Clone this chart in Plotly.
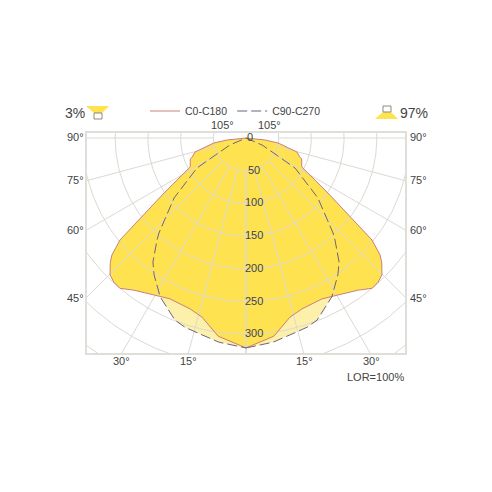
import numpy as np
import plotly.graph_objects as go

# Polar photometric data: gamma angle (deg from nadir) and intensity (cd/klm)
c0_angles = [0, 8, 13.8, 18.1, 25.3, 28.8, 36.4, 40, 42.5, 44.8, 47.4, 48.9, 51, 56.1, 62.6, 69.4, 70.6, 74.6, 81.1, 84, 90]
c0_values = [321, 306, 282, 275, 272, 276, 289, 300, 299, 295, 282, 272, 248, 151, 96, 91, 87, 81, 50, 29, 0]
c90_angles = [0, 7.5, 14.1, 17.9, 21.3, 28.4, 33.9, 36.9, 41.1, 42.5, 50.2, 58.5, 60.6, 66.4, 72]
c90_values = [321, 315, 307, 304, 299, 276, 252, 237, 207, 197, 143, 88, 56, 27, 0]
radial_ticks = [50, 100, 150, 200, 250, 300]
grid_radii = [50, 100, 150, 200, 250, 300, 350, 400, 450]
grid_angles = [0, 15, 30, 45, 60, 75, 90, 105]
side_labels = [(90, 137), (75, 180), (60, 230), (45, 298)]
bottom_labels = [(30, 121, 371), (15, 188, 304)]

W = H = 476
OFF = 8  # page body margin
L, R, T, B = 86, 406, 132, 354
CX, CY, S = 246, 138, 0.654
GRID = "#dcd9d2"
FRAME = "#e0ded9"
TXT = "#444444"

def px(x): return (x - L) / (R - L)
def py(y): return (B - y) / (B - T)

def mirror(a, v):
    a = np.radians(np.array(a, float))
    v = np.array(v, float)
    x = np.concatenate([v * np.sin(a), -(v * np.sin(a))[::-1]])
    y = np.concatenate([-v * np.cos(a), -(v * np.cos(a))[::-1]])
    return x, y

fig = go.Figure()
x90, y90 = mirror(c90_angles, c90_values)
x0, y0 = mirror(c0_angles, c0_values)
fig.add_trace(go.Scatter(x=x90, y=y90, mode="lines", fill="toself", fillcolor="#fdf0aa",
                         line=dict(width=0), showlegend=False, hoverinfo="skip"))
fig.add_trace(go.Scatter(x=x0, y=y0, mode="lines", fill="toself", fillcolor="#ffe24f",
                         line=dict(width=0), showlegend=False, hoverinfo="skip"))
t = np.radians(np.linspace(-180, 180, 361))
for r in grid_radii:
    fig.add_trace(go.Scatter(x=r * np.sin(t), y=r * np.cos(t), mode="lines",
                             line=dict(color=GRID, width=1), showlegend=False, hoverinfo="skip"))
for a in grid_angles:
    for sg in (-1, 1):
        ar = np.radians(a)
        fig.add_trace(go.Scatter(x=[sg * 50 * np.sin(ar), sg * 600 * np.sin(ar)],
                                 y=[-50 * np.cos(ar), -600 * np.cos(ar)], mode="lines",
                                 line=dict(color=GRID, width=1), showlegend=False, hoverinfo="skip"))
fig.add_trace(go.Scatter(x=x0, y=y0, mode="lines", name="C0-C180",
                         line=dict(color="#c9807a", width=1)))
fig.add_trace(go.Scatter(x=x90, y=y90, mode="lines", name="C90-C270",
                         line=dict(color="#6b6480", width=1, dash="10px,4px")))

ann = []
def text(x, y, s, size=11, anchor="center"):
    ann.append(dict(x=px(x), y=py(y), xref="paper", yref="paper", text=s, showarrow=False,
                    xanchor=anchor, yanchor="middle", font=dict(size=size, color=TXT)))
for a, y in side_labels:
    text(75, y, f"{a}°")
    text(418, y, f"{a}°")
for a, xl, xr in bottom_labels:
    text(xl, 361, f"{a}°")
    text(xr, 361, f"{a}°")
text(222, 125, "105°")
text(269, 125, "105°")
text(250, 137, "0", anchor="center")
for v in radial_ticks:
    text(254, CY + v * S - 1, str(v))
text(375, 377, "LOR=100%")
text(75, 113, "3%", 14)
text(414, 113, "97%", 14)

def poly(pts, fill, line="#8a8a7a"):
    path = "M" + " L".join(f"{px(x):.4f},{py(y):.4f}" for x, y in pts) + " Z"
    return dict(type="path", xref="paper", yref="paper", path=path, fillcolor=fill,
                line=dict(color=line, width=1 if line != fill else 0))
shapes = [
    poly([(86, 106), (109, 106), (102, 113), (94, 113)], "#ffe24f", "#ffe24f"),
    poly([(94, 113), (102, 113), (102, 119), (94, 119)], "#ffffff"),
    poly([(375, 119), (398, 119), (391, 112), (383, 112)], "#ffe24f", "#ffe24f"),
    poly([(383, 106), (391, 106), (391, 112), (383, 112)], "#ffffff"),
]

fig.update_layout(
    width=W, height=H, autosize=False, paper_bgcolor="white", plot_bgcolor="white",
    margin=dict(l=L - OFF, r=W - (R - OFF), t=T - OFF, b=H - (B - OFF), pad=0),
    font=dict(family="Liberation Sans, Arial, sans-serif", size=11, color=TXT),
    xaxis=dict(range=[(L - CX) / S, (R - CX) / S], visible=False, fixedrange=True),
    yaxis=dict(range=[(CY - B) / S, (CY - T) / S], visible=False, fixedrange=True),
    shapes=shapes + [dict(type="rect", xref="paper", yref="paper", x0=0, x1=1, y0=0, y1=1,
                          line=dict(color=FRAME, width=2), layer="above")],
    annotations=ann,
    legend=dict(orientation="h", x=px(145), y=py(111), xanchor="left", yanchor="middle",
                font=dict(size=10.5, color=TXT), itemwidth=30, bgcolor="rgba(0,0,0,0)",
                traceorder="normal"),
)
fig.write_html("out.html")
